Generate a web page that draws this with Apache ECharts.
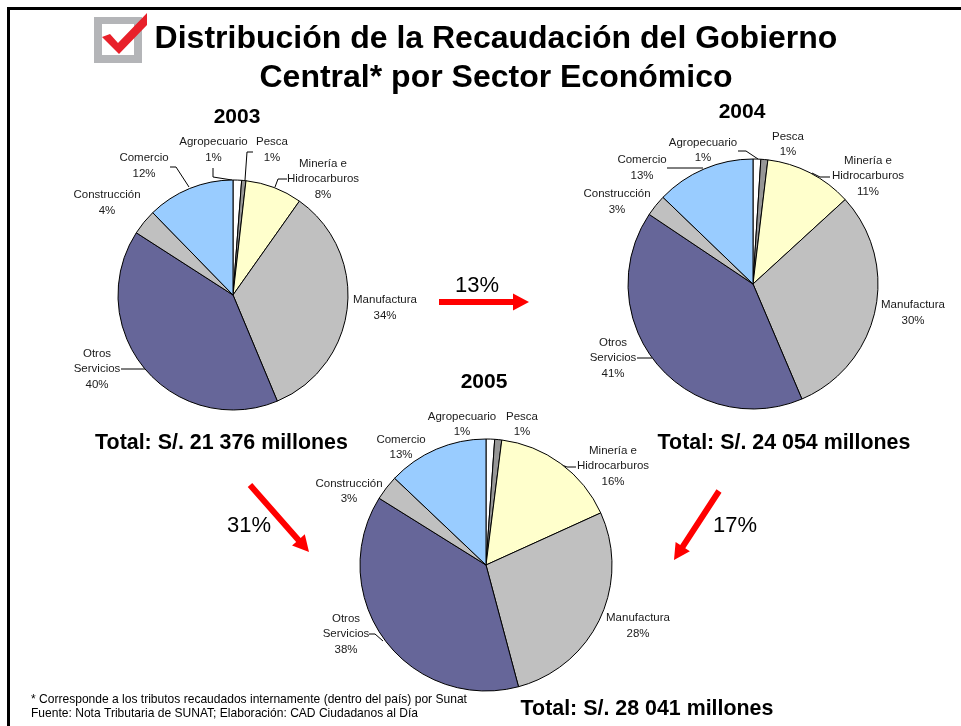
<!DOCTYPE html>
<html><head><meta charset="utf-8">
<style>html,body{margin:0;padding:0;background:#fff}#c{width:961px;height:726px}</style>
<script src="https://cdn.jsdelivr.net/npm/echarts@6/dist/echarts.min.js"></script>
</head><body><div id="c"></div>
<script>
const categories = ['Agropecuario','Pesca','Minería e\nHidrocarburos','Manufactura','Otros\nServicios','Construcción','Comercio'];
const colors = ['#FFFFFF','#969696','#FFFFCC','#C0C0C0','#666699','#C0C0C0','#99CCFF'];
const values2003 = [1.2,0.6,8.0,33.9,40.4,3.6,12.3];
const values2004 = [1.0,0.9,11.3,30.4,40.8,2.8,12.8];
const values2005 = [1.1,0.9,16.2,27.6,38.0,3.2,12.9];

const FONT = '"Liberation Sans", Arial, sans-serif';

// label centres, in page pixels, one per category
const labelPos2003 = [[213.5,150],[272,150],[323,179],[385,308],[97,369],[107,203],[144,166]];
const labelPos2004 = [[703,150.5],[788,144.5],[868,176],[913,313],[613,358],[617,202],[642,168]];
const labelPos2005 = [[462,424.5],[522,424.5],[613,466],[638,626],[346,634],[349,491.5],[401,447.5]];
// leader lines, null where the label has none
const leaders2003 = [[[213,168],[213,177],[232,180]],[[253,152],[247,152],[245,180]],[[287,179],[278,179],[275,187]],null,[[121,369],[136,369],[145,369]],null,[[170,167],[176,167],[189,187]]];
const leaders2004 = [[[738,151],[746,151],[758,159]],null,[[830,177],[820,177],[812,173]],null,[[637,358],[645,358],[652,358]],null,[[667,168],[690,168],[703,168]]];
const leaders2005 = [null,null,[[576,467],[567,467],[562,465]],null,[[369,634],[375,634],[383,641]],null,null];

function pie(values, center, radius, pos, leaders){
  return {
    type:'pie', center:center, radius:radius, startAngle:90, clockwise:true,
    animation:false, silent:true,
    minAngle:0, avoidLabelOverlap:false,
    itemStyle:{borderColor:'#000',borderWidth:1},
    data:categories.map((n,i)=>({name:n,value:values[i],itemStyle:{color:colors[i]}})),
    label:{show:true,position:'outside',fontFamily:FONT,fontSize:11.5,lineHeight:15.5,color:'#1a1a1a',align:'center',verticalAlign:'middle',
      formatter:p=>p.name+'\n'+Math.round(p.value)+'%'},
    labelLine:{show:true,length:4,length2:4,lineStyle:{color:'#000',width:1}},
    labelLayout:function(p){
      const c=pos[p.dataIndex], l=leaders[p.dataIndex];
      const r={x:c[0],y:c[1],align:'center',verticalAlign:'middle'};
      r.labelLinePoints = l ? l : [[c[0],c[1]],[c[0],c[1]],[c[0],c[1]]];
      return r;
    }
  };
}

function text(t,x,y,size,weight,align){
  return {type:'text',silent:true,x:x,y:y,z:10,style:{text:t,fontFamily:FONT,fontSize:size,fontWeight:weight||'normal',fill:'#000',align:align||'center',verticalAlign:'middle'}};
}
function arrow(x1,y1,x2,y2){
  const L=Math.hypot(x2-x1,y2-y1),ux=(x2-x1)/L,uy=(y2-y1)/L,nx=-uy,ny=ux,h=16,w=3,W=8.5;
  const bx=x2-ux*h,by=y2-uy*h;
  return {type:'polygon',silent:true,z:10,shape:{points:[[x1+nx*w,y1+ny*w],[bx+nx*w,by+ny*w],[bx+nx*W,by+ny*W],[x2,y2],[bx-nx*W,by-ny*W],[bx-nx*w,by-ny*w],[x1-nx*w,y1-ny*w]]},style:{fill:'#FF0000'}};
}
const graphics=[
  {type:'rect',silent:true,shape:{x:8.5,y:8.5,width:960,height:730},style:{fill:'none',stroke:'#000',lineWidth:3}},
  // check-box icon
  {type:'polygon',silent:true,z:9,shape:{points:[[94,17],[142,17],[142,63],[94,63]]},style:{fill:'#B4B5B8'}},
  {type:'polygon',silent:true,z:9,shape:{points:[[102,24],[134,24],[134,55],[102,55]]},style:{fill:'#fff'}},
  {type:'polygon',silent:true,z:9,shape:{points:[[102,37],[110,34],[118,43],[147,13],[147,25],[119,54]]},style:{fill:'#E8202A'}},
  text('Distribución de la Recaudación del Gobierno',496,39,32,'bold'),
  text('Central* por Sector Económico',496,78,32,'bold'),
  text('2003',237,117,21,'bold'),
  text('2004',742,112,21,'bold'),
  text('2005',484,382,21,'bold'),
  text('Total: S/. 21 376 millones',221.5,443,21.4,'bold'),
  text('Total: S/. 24 054 millones',784,443,21.4,'bold'),
  text('Total: S/. 28 041 millones',647,709,21.4,'bold'),
  text('13%',477,286,22),
  text('31%',249,526,22),
  text('17%',735,526,22),
  arrow(439,302,529,302),
  arrow(250,485,309,552),
  arrow(719,491,674,560),
  text('* Corresponde a los tributos recaudados internamente (dentro del país) por Sunat',31,700,12.06,'normal','left'),
  text('Fuente: Nota Tributaria de SUNAT; Elaboración: CAD Ciudadanos al Día',31,714,12.06,'normal','left')
];
const chart=echarts.init(document.getElementById('c'),null,{renderer:'canvas'});
chart.setOption({
  animation:false,backgroundColor:'#fff',
  series:[
    pie(values2003,[233,295],115,labelPos2003,leaders2003),
    pie(values2004,[753,284],125,labelPos2004,leaders2004),
    pie(values2005,[486,565],126,labelPos2005,leaders2005)
  ],
  graphic:graphics
});
</script></body></html>
